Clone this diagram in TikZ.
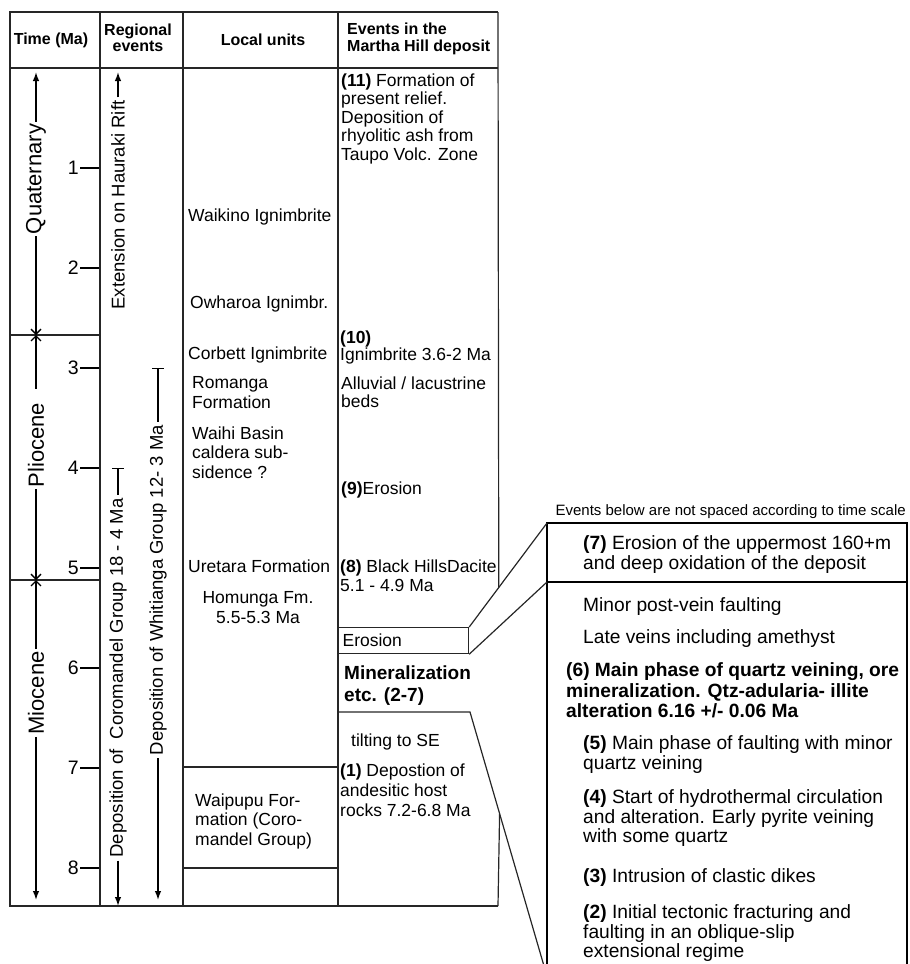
\documentclass[tikz,border=0pt]{standalone}
\usepackage{fontspec}
\setmainfont{Liberation Sans}
\usetikzlibrary{arrows,arrows.meta,calc,positioning}

\begin{document}
\begin{tikzpicture}[x=1pt,y=-1pt,>={Latex[length=9pt,width=6.5pt]},
    rule/.style={line width=1.2pt,draw=black!85},
    axis/.style={line width=1.4pt},
    barb/.style={-{Straight Barb[length=5pt,width=10pt]}},
    head/.style={font=\fontsize{16}{16.5}\selectfont\bfseries,inner sep=0pt},
    unit/.style={font=\fontsize{17.5}{19.5}\selectfont,anchor=north west,align=left,inner sep=0pt},
    event/.style={font=\fontsize{17.5}{18.5}\selectfont,anchor=north west,align=left,inner sep=0pt},
    later/.style={font=\fontsize{19.2}{20}\selectfont,anchor=north west,align=left,inner sep=0pt},
    period/.style={font=\fontsize{22}{22}\selectfont,rotate=90,inner sep=2pt},
    regional/.style={font=\fontsize{18.5}{18.5}\selectfont,rotate=90,inner sep=3pt},
    tick/.style={line width=2.4pt}]
  \useasboundingbox (0,0) rectangle (910,964);

  % table frame and columns
  \draw[rule] (498,12) -- (10,12) -- (10,906) -- (498,906);
  \draw[rule] (10,68) -- (498,68);
  \foreach \x in {100,183,338} \draw[rule] (\x,12) -- (\x,906);
  \draw[rule] (10,335) -- (100,335) (10,580) -- (100,580);
  \draw[rule] (183,767) -- (338,767) (183,868) -- (338,868);

  % headers
  \node[head] (timehead) at (51,40) {Time (Ma)};
  \node[head,align=center] (reghead) at (138,38) {Regional\\events};
  \node[head] (localhead) at (263,40) {Local units};
  \node[head,align=left,anchor=west] (eventhead) at (347,39) {Events in the\\Martha Hill deposit};

  % time scale
  \foreach \m in {1,...,8}{
    \node[anchor=east,font=\fontsize{19.5}{20}\selectfont,inner sep=1pt] (ma\m) at (80,68+100*\m) {\m};
    \draw[tick] (ma\m.east) -- ++(19,0);
  }
  \node[period] (quat) at (36,179) {Quaternary};
  \node[period] (plio) at (36,445) {Pliocene};
  \node[period] (mio) at (36,693) {Miocene};
  \coordinate (qtop) at (36,72);
  \coordinate (qp) at (36,335);
  \coordinate (pm) at (36,580);
  \coordinate (mbot) at (36,900);
  \draw[axis,->] (quat.east) -- (qtop);
  \draw[axis,barb] (quat.west) -- (qp);
  \draw[axis,barb,shorten <=12pt] (plio.east) -- (qp);
  \draw[axis,barb] (plio.west) -- (pm);
  \draw[axis,barb] (mio.east) -- (pm);
  \draw[axis,->] (mio.west) -- (mbot);

  % regional events
  \node[regional] (rift) at (118,205) {Extension on Hauraki Rift};
  \node[regional] (coro) at (118,678) {Deposition of\ \ Coromandel Group 18 - 4 Ma};
  \node[regional] (whit) at (158,590) {Deposition of Whitianga Group 12- 3 Ma};
  \coordinate (rifttop) at (118,72);
  \coordinate (corotop) at (118,468);
  \coordinate (corobot) at (118,906);
  \coordinate (whittop) at (158,368);
  \coordinate (whitbot) at (158,900);
  \draw[axis,->] (rift.east) -- (rifttop);
  \draw[axis,{Bar[width=12pt]}-] (corotop) -- (coro.east);
  \draw[axis,->] (coro.west) -- (corobot);
  \draw[axis,{Bar[width=12pt]}-] (whittop) -- (whit.east);
  \draw[axis,->] (whit.west) -- (whitbot);

  % local units
  \node[unit] (waikino) at (188,208.5) {Waikino Ignimbrite};
  \node[unit] (owharoa) at (190,295.5) {Owharoa Ignimbr.};
  \node[unit] (corbett) at (188,346.5) {Corbett Ignimbrite};
  \node[unit] (romanga) at (192,376.5) {Romanga\\Formation};
  \node[unit] (waihi) at (192,426.5) {Waihi Basin\\caldera sub-\\sidence ?};
  \node[unit] (uretara) at (188,559.5) {Uretara Formation};
  \node[unit,anchor=north,align=center] (homunga) at (258,591.5) {Homunga Fm.\\5.5-5.3 Ma};
  \node[unit] (waipupu) at (195,793.5) {Waipupu For-\\mation (Coro-\\mandel Group)};

  % events in the deposit
  \node[event] (ev11) at (341,73.5) {\textbf{(11)} Formation of\\present relief.\\Deposition of\\rhyolitic ash from\\Taupo Volc. Zone};
  \node[event,font=\fontsize{17.5}{16}\selectfont] (ev10) at (340,330.5) {\textbf{(10)}\\Ignimbrite 3.6-2 Ma};
  \node[event] (alluvial) at (341,376.5) {Alluvial / lacustrine\\beds};
  \node[event] (ev9) at (341,481.5) {\textbf{(9)}Erosion};
  \node[event,font=\fontsize{17.5}{19}\selectfont] (ev8) at (340,559.5) {\textbf{(8)} Black HillsDacite\\5.1 - 4.9 Ma};
  \node[rule,draw,anchor=north west,minimum height=26pt,text width=122pt,inner sep=4pt,
        align=left,font=\fontsize{17.5}{18}\selectfont] (ero) at (338,627) {Erosion};
  \node[event,font=\fontsize{19}{22}\selectfont\bfseries] (mineral) at (344,666) {Mineralization\\etc. (2-7)};
  \node[event] (tilting) at (351,733.5) {tilting to SE};
  \node[event,font=\fontsize{17.5}{20}\selectfont] (ev1) at (340,763.5) {\textbf{(1)} Depostion of\\andesitic host\\rocks 7.2-6.8 Ma};

  % zoomed box for events 2-7
  \coordinate (boxnw) at (547,523);
  \coordinate (boxsep) at (547,582);
  \coordinate (minbot) at (470,712);
  \coordinate (boxsw) at (544,966);
  \draw[line width=2.6pt] (547,972) -- (boxnw) -- (907,523) -- (907,972);
  \draw[line width=1.6pt] (boxsep) -- (907,582);
  \draw[rule] (ero.north east) -- (boxnw);
  \draw[rule] (ero.south east) -- (boxsep);
  \draw[rule] (338,712) -- (minbot) -- (boxsw);
  \draw[rule] (498,12) -- ($(ero.north east)!0.38!(boxnw)$);
  \draw[rule] ($(minbot)!0.4!(boxsw)$) -- (498,906);

  \node[anchor=base east,font=\fontsize{15}{15}\selectfont,inner sep=0pt] (note) at (906,515)
    {Events below are not spaced according to time scale};
  \node[later] (ev7) at (583,535.8) {\textbf{(7)} Erosion of the uppermost 160+m\\and deep oxidation of the deposit};
  \node[later] (minor) at (583,597.8) {Minor post-vein faulting};
  \node[later] (late) at (583,629.8) {Late veins including amethyst};
  \node[later,font=\fontsize{19.2}{20.5}\selectfont\bfseries] (ev6) at (566,662.8)
    {(6) Main phase of quartz veining, ore\\mineralization. Qtz-adularia- illite\\alteration 6.16 +/- 0.06 Ma};
  \node[later] (ev5) at (583,735.8) {\textbf{(5)} Main phase of faulting with minor\\quartz veining};
  \node[later,font=\fontsize{19.2}{19.5}\selectfont] (ev4) at (583,789.8) {\textbf{(4)} Start of hydrothermal circulation\\and alteration. Early pyrite veining\\with some quartz};
  \node[later] (ev3) at (583,868.8) {\textbf{(3)} Intrusion of clastic dikes};
  \node[later,font=\fontsize{19.2}{19.5}\selectfont] (ev2) at (583,904.8) {\textbf{(2)} Initial tectonic fracturing and\\faulting in an oblique-slip\\extensional regime};
\end{tikzpicture}
\end{document}
